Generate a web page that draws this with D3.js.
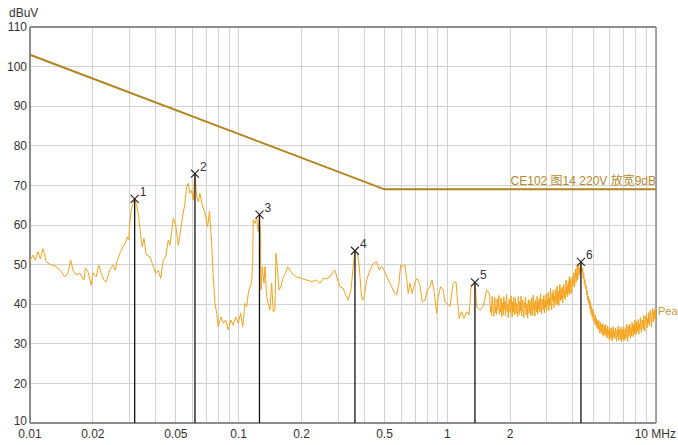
<!DOCTYPE html>
<html><head><meta charset="utf-8">
<script src="https://cdn.jsdelivr.net/npm/d3@7"></script>
<style>body{margin:0;background:#fff;} svg{display:block;font-family:"Liberation Sans",Arial,"Noto Sans CJK SC",sans-serif;}</style>
</head><body><svg id="c" width="678" height="445"></svg>
<script>
const xTicks = [0.01, 0.02, 0.05, 0.1, 0.2, 0.5, 1, 2, 10];
const xTickLabels = ["0.01", "0.02", "0.05", "0.1", "0.2", "0.5", "1", "2", "10 MHz"];
const yTicks = [10, 20, 30, 40, 50, 60, 70, 80, 90, 100, 110];
const yUnit = "dBuV";
const limitFreq = [0.01, 0.5, 10];
const limitVals = [103, 69, 69];
const limitLabel = "CE102 图14 220V 放宽9dB";
const traceLabel = "Pea";
const markerIds = [1, 2, 3, 4, 5, 6];
const markerFreq = [0.03174, 0.06173, 0.1258, 0.3608, 1.356, 4.368];
const markerVals = [66.6, 73.0, 62.6, 53.5, 45.5, 50.7];
const traceFreq = [0.0100,0.01034,0.01060,0.01092,0.01121,0.01154,0.01197,0.01265,0.01337,0.01413,
0.01466,0.01521,0.01567,0.01607,0.01667,0.01730,0.01814,0.01841,0.01896,0.01966,
0.02004,0.02078,0.02134,0.02196,0.02262,0.02321,0.02409,0.02499,0.02563,0.02620,
0.02720,0.02790,0.02862,0.02926,0.02971,0.03004,0.03058,0.03115,0.03174,0.03245,
0.03317,0.03391,0.03452,0.03517,0.03608,0.03758,0.03898,0.04003,0.04120,0.04230,
0.04352,0.04469,0.04599,0.04686,0.04861,0.04991,0.05136,0.05233,0.05368,0.05529,
0.05633,0.05734,0.05843,0.05953,0.06059,0.06173,0.06291,0.06402,0.06524,0.06691,
0.06894,0.07104,0.07246,0.07424,0.07556,0.07699,0.07845,0.07986,0.08227,0.08437,
0.08664,0.08916,0.09186,0.09421,0.09674,0.09956,0.1022,0.1045,0.1072,0.1092,
0.1112,0.1133,0.1154,0.1167,0.1175,0.1197,0.1220,0.1242,0.1258,0.1269,
0.1279,0.1298,0.1322,0.1337,0.1362,0.1386,0.1413,0.1439,0.1465,0.1493,
0.1509,0.1531,0.1560,0.1595,0.1636,0.1680,0.1717,0.1761,0.1826,0.1896,
0.2004,0.2118,0.2238,0.2365,0.2453,0.2544,0.2641,0.2738,0.2840,0.2893,
0.2982,0.3058,0.3171,0.3256,0.3350,0.3452,0.3540,0.3608,0.3701,0.3784,
0.3855,0.3911,0.3998,0.4105,0.4257,0.4415,0.4584,0.4717,0.4844,0.5023,
0.5211,0.5410,0.5610,0.5717,0.5863,0.5974,0.6148,0.6264,0.6383,0.6496,
0.6620,0.6790,0.6995,0.7175,0.7392,0.7582,0.7812,0.8012,0.8254,0.8438,
0.8627,0.8887,0.9046,0.9288,0.9557,0.9739,0.9989,1.029,1.049,1.067,
1.100,1.115,1.140,1.171,1.201,1.238,1.273,1.297,1.331,1.356,
1.382,1.433,1.486,1.543,1.588];
const traceVals = [51.0,52.4,51.1,53.3,51.4,54.0,50.7,49.9,49.5,48.2,
46.9,47.9,51.1,48.6,47.4,47.8,46.1,49.1,48.2,44.8,
47.9,46.9,49.9,47.8,46.1,45.7,48.6,49.9,48.6,51.1,
53.3,54.5,55.4,57.0,56.2,60.4,63.8,65.5,66.6,65.1,
62.1,57.5,54.5,56.6,52.4,52.0,49.5,47.8,48.6,46.5,
51.1,52.0,56.2,54.9,61.7,60.0,54.9,57.5,61.7,65.5,
69.7,70.5,68.0,68.8,66.3,73.0,67.1,65.9,68.0,65.1,
63.0,59.6,63.5,55.4,46.9,40.2,37.7,34.3,36.8,35.2,
36.0,33.5,36.0,34.7,36.8,35.2,37.7,34.3,40.2,39.4,
42.7,44.4,45.3,51.1,61.3,60.4,61.7,58.3,62.6,58.7,
43.6,49.5,45.3,49.5,41.9,40.2,38.5,45.3,38.1,38.5,
52.9,49.5,43.6,44.4,46.9,47.8,49.5,48.6,47.4,46.9,
46.5,46.1,45.7,46.1,45.3,46.5,46.5,46.9,48.2,48.6,
46.1,44.4,44.0,42.3,41.0,43.6,49.5,53.5,52.9,49.5,
43.6,41.0,41.9,46.1,48.6,50.3,50.7,48.6,49.5,48.2,
46.1,44.4,42.7,42.3,45.3,49.9,49.5,49.9,46.5,42.7,
45.3,42.7,45.7,46.5,44.8,40.6,41.0,43.6,44.4,46.1,
43.6,37.7,41.9,44.4,43.6,40.6,40.2,39.4,42.7,45.3,
45.7,41.9,36.4,38.1,36.4,38.1,37.3,44.0,45.3,45.5,
39.4,38.5,39.4,43.6,42.7];
const sweepStart = 1.6, sweepStop = 10;
const sweepVals = [41.2,38.0,39.6,37.1,42.0,40.3,38.4,36.9,40.9,41.7,37.8,39.2,37.4,41.4,38.6,
40.1,42.2,37.5,39.0,38.1,41.6,36.8,40.4,39.3,37.2,41.9,38.7,40.8,37.0,39.7,
42.5,38.2,40.0,36.6,39.4,41.3,37.9,38.5,42.1,39.9,36.7,40.6,38.0,41.8,37.3,
39.1,41.5,37.6,40.2,38.8,36.9,41.9,39.5,37.4,40.7,38.3,42.0,37.0,39.8,41.1,
38.2,36.6,40.5,39.1,41.8,37.3,38.9,40.1,36.5,41.2,39.6,37.7,40.9,38.4,37.1,
41.6,39.0,37.2,42.3,38.5,40.4,37.0,41.1,39.7,38.1,42.0,37.6,40.6,38.8,41.4,
38.0,42.7,39.4,37.5,41.3,40.0,38.6,42.2,37.8,40.9,39.2,42.5,38.3,41.0,39.9,
43.1,38.4,41.5,39.6,44.0,40.2,38.6,42.7,41.0,43.6,39.1,42.0,40.5,43.8,39.8,
41.9,44.6,40.0,43.2,39.6,42.5,45.0,40.8,43.9,41.4,44.3,40.3,42.8,45.0,41.6,
43.5,41.2,46.1,42.6,44.8,41.9,45.7,43.0,47.0,42.4,46.4,44.1,42.8,46.9,44.5,
45.2,47.9,44.3,46.8,48.9,45.5,47.6,49.6,46.2,48.4,50.0,47.3,49.2,48.1,50.7,
49.5,48.0,49.1,46.5,47.8,45.0,46.2,43.9,44.8,42.4,43.5,41.0,42.1,40.2,41.3,
38.9,40.5,37.6,39.4,36.8,38.7,35.9,37.9,36.4,35.1,37.2,34.6,36.3,34.1,35.8,
33.6,35.9,34.2,32.7,35.4,33.1,34.8,32.3,35.2,33.5,31.9,34.6,32.5,35.0,32.1,
33.8,31.5,34.6,32.2,33.4,30.9,34.1,32.7,31.2,33.9,30.7,32.8,34.4,31.6,33.0,
31.3,34.0,32.1,30.6,33.5,31.8,34.5,30.8,32.9,33.7,31.1,34.2,30.5,32.4,33.6,
31.0,34.3,32.6,30.9,33.8,31.5,35.0,32.2,30.6,34.6,31.9,33.1,35.0,31.4,33.9,
32.0,35.4,33.2,31.8,34.9,32.6,36.0,33.7,32.3,35.6,33.0,34.4,36.2,32.4,35.1,
33.5,36.6,34.3,32.9,36.0,35.1,33.7,37.2,34.6,33.2,36.9,35.4,37.6,34.0,36.3,
35.2,37.9,34.6,36.8,38.5,35.8,34.2,37.6,39.0,35.5,38.2,36.4,38.8,35.9,38.4];

const W = 678, H = 445;
const L = 30, R = 656, T = 27, B = 423;
const svg = d3.select("#c");
const x = d3.scaleLog().domain([0.01, 10]).range([L, R]);
const y = d3.scaleLinear().domain([10, 110]).range([B, T]);

// grid
svg.append("g").selectAll("line").data(x.ticks()).join("line")
  .attr("x1", d => x(d)).attr("x2", d => x(d)).attr("y1", T).attr("y2", B)
  .attr("stroke", "#d2d2d2").attr("stroke-width", 1).attr("shape-rendering", "crispEdges");
svg.append("g").selectAll("line").data(yTicks).join("line")
  .attr("x1", L).attr("x2", R).attr("y1", d => y(d)).attr("y2", d => y(d))
  .attr("stroke", "#d2d2d2").attr("stroke-width", 1).attr("shape-rendering", "crispEdges");

// frame
svg.append("line").attr("x1", L).attr("x2", R).attr("y1", T).attr("y2", T).attr("stroke", "#8c8c8c").attr("stroke-width", 2);
svg.append("line").attr("x1", R).attr("x2", R).attr("y1", T).attr("y2", B).attr("stroke", "#8c8c8c").attr("stroke-width", 1.5);
svg.append("line").attr("x1", L).attr("x2", R).attr("y1", B).attr("y2", B).attr("stroke", "#8c8c8c").attr("stroke-width", 2);
svg.append("line").attr("x1", L).attr("x2", L).attr("y1", T).attr("y2", B).attr("stroke", "#8c8c8c").attr("stroke-width", 2);

// axis labels
svg.append("g").selectAll("text").data(yTicks).join("text")
  .attr("x", L - 3).attr("y", d => y(d)).attr("dy", d => d === 10 ? "0.2em" : "0.35em").attr("text-anchor", "end")
  .attr("font-size", 12).attr("fill", "#333").text(d => d);
svg.append("text").attr("x", 9).attr("y", 17).attr("font-size", 12).attr("fill", "#333").text(yUnit);
svg.append("g").selectAll("text").data(xTicks).join("text")
  .attr("x", (d, i) => i === xTicks.length - 1 ? W - 2 : x(d)).attr("y", 438)
  .attr("text-anchor", (d, i) => i === xTicks.length - 1 ? "end" : "middle")
  .attr("font-size", 12).attr("fill", "#333").text((d, i) => xTickLabels[i]);

// clip
svg.append("clipPath").attr("id", "plot").append("rect").attr("x", L).attr("y", T).attr("width", R - L).attr("height", B - T);

// trace
const sweepFreq = sweepVals.map((v, i) => Math.exp(Math.log(sweepStart) + (Math.log(sweepStop) - Math.log(sweepStart)) * i / (sweepVals.length - 1)));
const trace = traceFreq.map((f, i) => [f, traceVals[i]]).concat(sweepFreq.map((f, i) => [f, sweepVals[i]]));
const line = d3.line().x(d => x(d[0])).y(d => y(d[1]));
svg.append("path").datum(trace).attr("clip-path", "url(#plot)")
  .attr("d", line).attr("fill", "none").attr("stroke", "#f7a21a").attr("stroke-width", 1).attr("stroke-linejoin", "round");

// limit line
svg.append("path").datum(limitFreq.map((f, i) => [f, limitVals[i]]))
  .attr("d", line).attr("fill", "none").attr("stroke", "#b3831d").attr("stroke-width", 2);
svg.append("text").attr("x", R).attr("y", y(limitVals[2]) - 4).attr("text-anchor", "end")
  .attr("font-size", 12).attr("fill", "#b8892a").text(limitLabel);

// trace label
svg.append("text").attr("x", R + 2).attr("y", y(sweepVals[sweepVals.length - 1]) + 4)
  .attr("font-size", 11).attr("fill", "#c9963a").text(traceLabel);

// markers
const mk = svg.append("g");
markerIds.forEach((id, i) => {
  const mx = x(markerFreq[i]), my = y(markerVals[i]);
  mk.append("line").attr("x1", mx).attr("x2", mx).attr("y1", my).attr("y2", B).attr("stroke", "#111").attr("stroke-width", 1.3);
  mk.append("path").attr("d", `M${mx-4},${my-4}L${mx+4},${my+4}M${mx-4},${my+4}L${mx+4},${my-4}`).attr("stroke", "#222").attr("stroke-width", 1.1);
  mk.append("text").attr("x", mx + 5).attr("y", my - 3).attr("font-size", 12).attr("fill", "#333").text(id);
});
</script></body></html>
